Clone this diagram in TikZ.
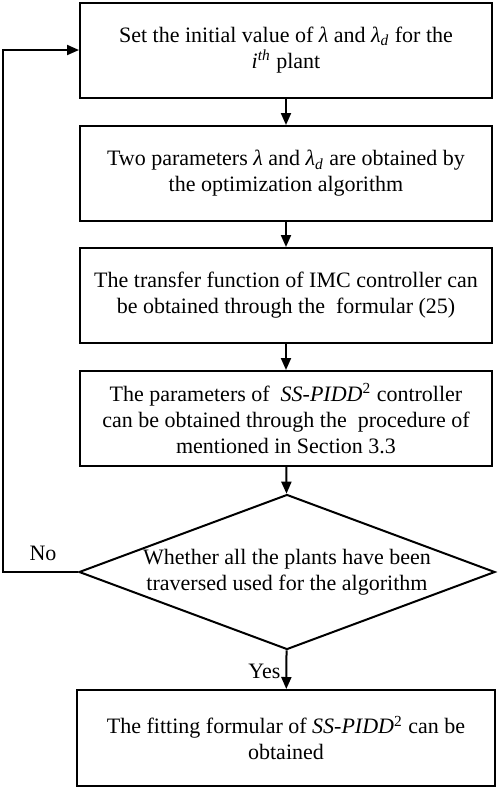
\documentclass[tikz,border=0pt]{standalone}
\usepackage{fontspec}
\setmainfont{Liberation Serif}
\usepackage{tikz}
\usetikzlibrary{arrows.meta,positioning,shapes.geometric,calc}
\definecolor{inkblack}{HTML}{000000}
\newcommand{\lam}{\textit{λ}}
\newcommand{\lamd}{\textit{λ}\textsubscript{\textit{d}}}
\newcommand{\sspidd}{\textit{SS-PIDD}\textsuperscript{2}}
\tikzset{
  procbox/.style={
    rectangle, draw=#1, line width=1pt,
    minimum width=206pt, minimum height=47.5pt,
    align=center, inner sep=2pt
  },
  procbox/.default=inkblack,
  decbox/.style={
    diamond, draw=#1, line width=1pt,
    minimum width=208pt, minimum height=77.5pt, inner sep=0pt
  },
  decbox/.default=inkblack,
  flowarrow/.style={
    -{Triangle[length=6pt,width=5pt]}, line width=1pt, color=#1
  },
  flowarrow/.default=inkblack,
  labelnode/.style={
    font=\fontsize{11}{13}\selectfont, color=inkblack
  },
}
\begin{document}
\begin{tikzpicture}[x=0.5pt, y=-0.5pt,
    every node/.style={font=\fontsize{11}{13}\selectfont}]
  \useasboundingbox (0,0) rectangle (498,789);

  % Process steps
  \node[procbox] (init) at (286,50)
    {Set the initial value of \lam{} and \lamd{} for the\\\textit{i}\textsuperscript{\textit{th}} plant};
  \node[procbox] (optim) at (286,173.5)
    {Two parameters \lam{} and \lamd{} are obtained by\\the optimization algorithm};
  \node[procbox] (imc) at (286,295.5)
    {The transfer function of IMC controller can\\be obtained through the \ formular (25)};
  \node[procbox] (param) at (286,418.5)
    {The parameters of \ \sspidd{} controller\\can be obtained through the \ procedure of\\mentioned in Section 3.3};

  % Decision
  \node[decbox] (check) at (287,572) {};
  \node[align=center] (checktext) at (check.center)
    {Whether all the plants have been\\traversed used for the algorithm};

  % Result
  \node[procbox, minimum width=209pt, minimum height=48pt] (fit) at (286,738)
    {The fitting formular of \sspidd{} can be\\obtained};

  % Arrows
  \draw[flowarrow] (init) -- (optim);
  \draw[flowarrow] (optim) -- (imc);
  \draw[flowarrow] (imc) -- (param);
  \draw[flowarrow] (param) -- (check);
  \draw[flowarrow] (check) -- (fit)
    node[pos=0.55, left, inner sep=2.5pt, labelnode] {Yes};

  % Feedback loop
  \coordinate (loopcorner) at (3,572);
  \draw[flowarrow] (check.west) -- (loopcorner) |- (init.west);
  \node[labelnode] (nolabel) at (43,553) {No};
\end{tikzpicture}
\end{document}
